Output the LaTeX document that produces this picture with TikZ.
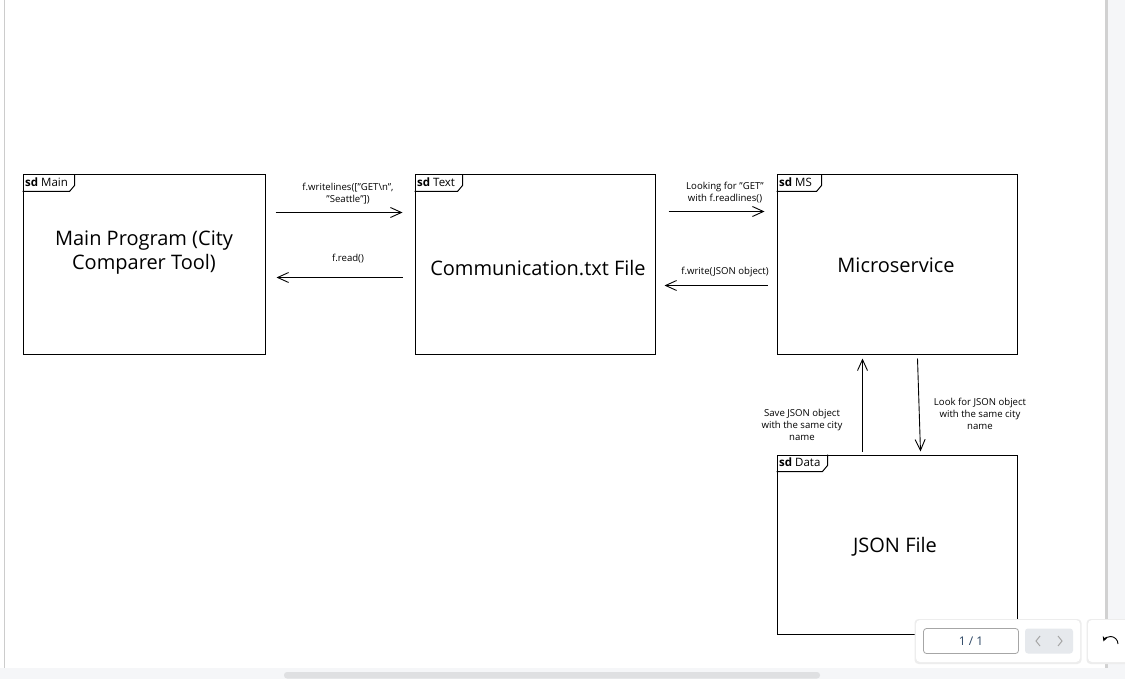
\documentclass[tikz,border=0pt]{standalone}
\usepackage{fontspec}
\setmainfont{Open Sans}
\usetikzlibrary{arrows.meta,calc}
\definecolor{panel}{HTML}{F5F6F8}
\definecolor{thumb}{HTML}{DFE0E2}
\definecolor{navbtn}{HTML}{E6E9ED}
\definecolor{pagetxt}{HTML}{2B4563}

\tikzset{
  frame/.style={draw=black, line width=1pt, minimum width=240pt, minimum height=179pt, inner sep=0pt},
  title/.style={font=\fontsize{20}{24}\selectfont, align=center},
  msg/.style={font=\fontsize{9.6}{12}\selectfont, align=center, inner sep=0pt},
  flow/.style={line width=0.9pt, -{Straight Barb[length=11pt,width=10pt]}},
}
% frame tag in the top left corner: node, name, width
\newcommand{\sdtag}[3]{%
  \draw[line width=1pt] (#1.north west) ++(0,17) -- ++(#3-5,0) -- ++(5,-6) -- ++(0,-11);
  \node[anchor=west, inner sep=0pt, font=\fontsize{11.5}{12}\selectfont] at ([shift={(2.5,8)}]#1.north west) {\textbf{sd} #2};
}

\begin{document}
\begin{tikzpicture}[x=1pt, y=-1pt]
  % page
  \useasboundingbox (0,0) rectangle (1125,679);
  \fill[white] (0,0) rectangle (1125,679);
  \fill[black!20] (3.5,0) rectangle (5,668);
  \fill[panel] (1106,0) rectangle (1125,679);
  \fill[black!18] (1105,0) rectangle (1107.5,668);
  \fill[panel] (0,668) rectangle (1125,679);
  \fill[thumb, rounded corners=3pt] (284,672) rectangle (820,678.5);

  % frames
  \node[frame, minimum width=242pt] (main) at (144,264.5) {};
  \node[frame] (text) at (535,264.5) {};
  \node[frame] (ms) at (897,264.5) {};
  \node[frame] (data) at (897,544.5) {};
  \sdtag{main}{Main}{52}
  \sdtag{text}{Text}{48}
  \sdtag{ms}{MS}{45}
  \sdtag{data}{Data}{51}

  \node[title] (mainlbl) at (144,252.5) {Main Program (City\\Comparer Tool)};
  \node[title] (textlbl) at (538,268) {Communication.txt File};
  \node[title] (mslbl) at (896,265) {Microservice};
  \node[title] (datalbl) at (895,547) {JSON File};

  % messages
  \draw[flow] ([shift={(10,38)}]main.north east) -- ([shift={(-12,38)}]text.north west);
  \draw[flow] ([shift={(-12,103)}]text.north west) -- ([shift={(11,103)}]main.north east);
  \draw[flow] ([shift={(13,37)}]text.north east) -- ([shift={(-12,37)}]ms.north west);
  \draw[flow] ([shift={(-9,111)}]ms.north west) -- ([shift={(9,111)}]text.north east);
  \draw[flow] ([shift={(86,-3)}]data.north west) -- ([shift={(86,4)}]ms.south west);
  \draw[flow] ([shift={(141,4)}]ms.south west) -- ([shift={(144,-3)}]data.north west);

  \node[msg] (m1) at (348,193.5) {f.writelines(["GET\textbackslash n",\\"Seattle"])};
  \node[msg] (m2) at (348,259) {f.read()};
  \node[msg] (m3) at (725,193) {Looking for "GET"\\with f.readlines()};
  \node[msg] (m4) at (725,272) {f.write(JSON object)};
  \node[msg] (m5) at (802,425) {Save JSON object\\with the same city\\name};
  \node[msg] (m6) at (980,414) {Look for JSON object\\with the same city\\name};

  % viewer controls
  \fill[black!7, rounded corners=4pt] (914.5,619) rectangle (1081.5,664);
  \fill[white, rounded corners=4pt] (916,620) rectangle (1080,662);
  \draw[black!35, line width=0.8pt, rounded corners=3pt] (923.5,628.5) rectangle (1018.5,653.5);
  \node[font=\fontsize{12}{14}\selectfont, text=pagetxt] (page) at (971,641) {1 / 1};
  \fill[navbtn, rounded corners=3pt] (1025,628.5) rectangle (1073,653.5);
  \draw[black!35, line width=1pt] (1040,636) -- (1036,641) -- (1040,646);
  \draw[black!35, line width=1pt] (1058,636) -- (1062,641) -- (1058,646);
  \fill[black!7, rounded corners=4pt] (1086.5,619) rectangle (1130,664);
  \fill[white, rounded corners=4pt] (1088,620) rectangle (1130,662);
  \draw[line width=0.9pt, -{Stealth[length=5pt,width=5pt]}] (1118,644) arc[start angle=0, end angle=-160, radius=7.5];
\end{tikzpicture}
\end{document}
